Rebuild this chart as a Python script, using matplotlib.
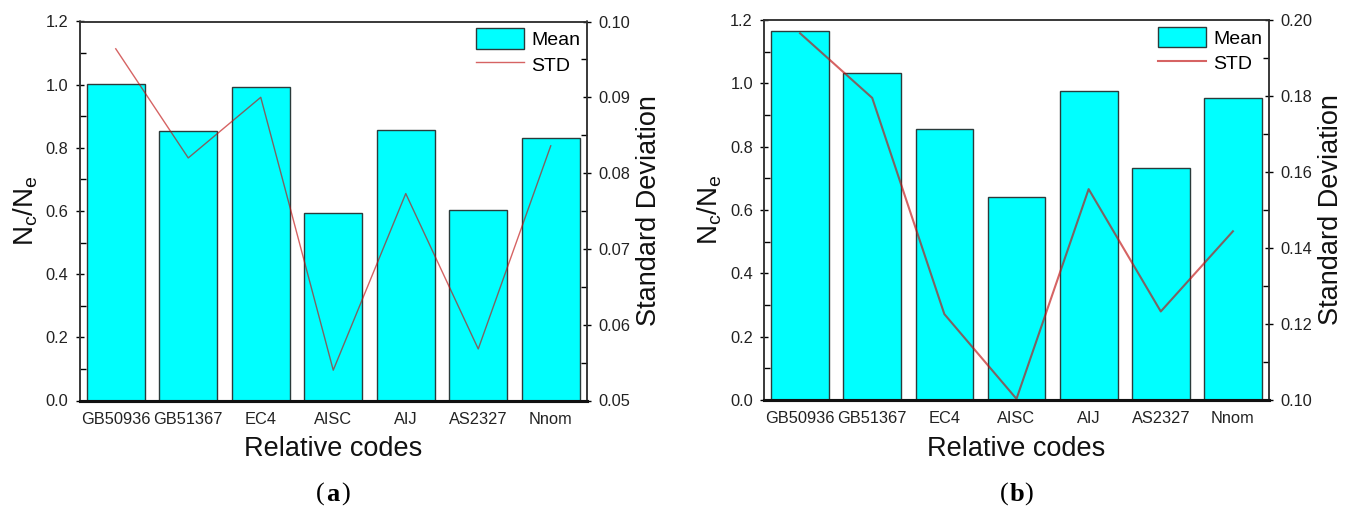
import matplotlib
matplotlib.use('Agg')
from matplotlib import pyplot as plt
from matplotlib.ticker import MultipleLocator, FormatStrFormatter
import numpy as np

plt.rcParams['font.family'] = ['Liberation Sans', 'DejaVu Sans']
plt.rcParams['mathtext.default'] = 'regular'

codes = ['GB50936', 'GB51367', 'EC4', 'AISC', 'AIJ', 'AS2327', 'Nnom']

mean_a = [1.003, 0.853, 0.992, 0.593, 0.857, 0.603, 0.832]
std_a = [0.0964, 0.0820, 0.0900, 0.0540, 0.0773, 0.0568, 0.0836]

mean_b = [1.165, 1.032, 0.856, 0.642, 0.976, 0.732, 0.955]
std_b = [0.1965, 0.1795, 0.1226, 0.1003, 0.1555, 0.1233, 0.1444]

W, H = 1351, 514
fig = plt.figure(figsize=(W/100, H/100), dpi=100)


def panel(rect, means, stds, std_lim, std_step, std_fmt, lw, letter, letter_x):
    ax = fig.add_axes(rect)
    x = np.arange(len(codes))
    bars = ax.bar(x, means, width=0.8, color='#00ffff', edgecolor='#2b3b3b', linewidth=1.0, label='Mean')
    ax.set_xlim(-0.5, 6.5)
    ax.set_ylim(0, 1.2)
    ax.yaxis.set_major_locator(MultipleLocator(0.2))
    ax.yaxis.set_minor_locator(MultipleLocator(0.1))
    ax.yaxis.set_major_formatter(FormatStrFormatter('%.1f'))
    ax.set_xticks(x)
    ax.set_xticklabels(codes)
    ax.tick_params(axis='x', length=0, pad=8, labelsize=11.8, colors='#222222')
    ax.tick_params(axis='y', which='major', direction='inout', length=6, width=1, pad=5, labelsize=11.8, labelcolor='#222222')
    ax.tick_params(axis='y', which='minor', direction='in', length=4, width=1)
    ax.set_xlabel('Relative codes', fontsize=19.5, labelpad=7, color='#111111')
    ax.set_ylabel('$N_c/N_e$', fontsize=20, labelpad=4, color='#111111')

    ax2 = ax.twinx()
    line, = ax2.plot(x, stds, color='#c01010', alpha=0.65, linewidth=lw, label='STD')
    ax2.set_ylim(*std_lim)
    ax2.yaxis.set_major_locator(MultipleLocator(std_step))
    ax2.yaxis.set_minor_locator(MultipleLocator(std_step/2))
    ax2.yaxis.set_major_formatter(FormatStrFormatter(std_fmt))
    ax2.tick_params(axis='y', which='major', direction='inout', length=6, width=1, pad=5, labelsize=11.8, labelcolor='#222222')
    ax2.tick_params(axis='y', which='minor', direction='in', length=4, width=1)
    ax2.set_ylabel('Standard Deviation', fontsize=19.5, labelpad=4, color='#111111')

    for a in (ax, ax2):
        for s in a.spines.values():
            s.set_linewidth(1.1)
            s.set_color('#333333')
        a.spines['bottom'].set_linewidth(2.2)
        a.spines['bottom'].set_color('#111111')

    ax2.legend([bars, line], ['Mean', 'STD'], loc='upper right', frameon=False,
               fontsize=14, handlelength=2.5, handleheight=1.25, handletextpad=0.35,
               labelspacing=0.25, borderaxespad=0.15, borderpad=0.2)

    cy = 0.038
    fig.text(letter_x, cy, letter, fontsize=19, fontweight='bold', family='Liberation Serif', ha='center', va='center')
    fig.text(letter_x - 0.006, cy, '(', fontsize=19, family='Liberation Serif', ha='right', va='center')
    fig.text(letter_x + 0.006, cy, ')', fontsize=19, family='Liberation Serif', ha='left', va='center')


panel([79.5/W, 1 - 400.5/H, 507.5/W, 379/H], mean_a, std_a, (0.05, 0.10), 0.01, '%.2f', 1.0, 'a', 333/W)
panel([764/W, 1 - 400/H, 505/W, 380/H], mean_b, std_b, (0.10, 0.20), 0.02, '%.2f', 1.5, 'b', 1016.5/W)

fig.savefig('out.png', dpi=100)
